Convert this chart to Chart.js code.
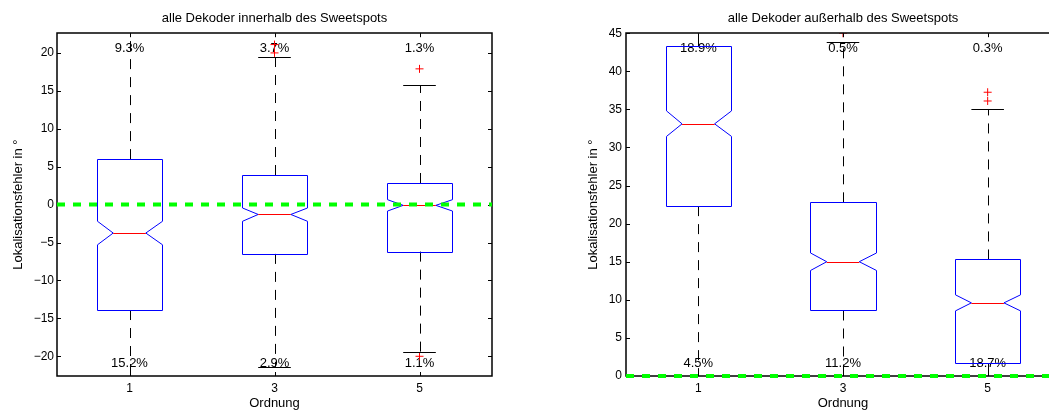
<!DOCTYPE html>
<html>
<head>
<meta charset="utf-8">
<script src="https://cdn.jsdelivr.net/npm/chart.js@4.4.0/dist/chart.umd.min.js"></script>
<style>
    html, body { margin: 0; padding: 0; background: #fff; width: 1049px; height: 411px; overflow: hidden; }
    #wrap { position: relative; width: 1049px; height: 411px; overflow: hidden; }
    canvas { position: absolute; top: 0; }
    #innerChart { left: 0; }
    #outerChart { left: 530px; }
</style>
</head>
<body>
<div id="wrap">
    <canvas id="innerChart" width="530" height="411"></canvas>
    <canvas id="outerChart" width="545" height="411"></canvas>
</div>
<script>
const orders = ["1", "3", "5"];

// alle Dekoder innerhalb des Sweetspots
const inQ1 = [-13.9, -6.5, -6.2];
const inMedian = [-3.75, -1.3, -0.1];
const inQ3 = [6.0, 3.9, 2.85];
const inNotchLow = [-5.3, -2.2, -0.85];
const inNotchHigh = [-2.2, -0.45, 0.65];
const inWhiskerLow = [-25, -21.4, -19.5];
const inWhiskerHigh = [25, 19.4, 15.75];
const inOutliers = [[], [21.1, 20.0], [17.9, -20.0]];
const inAbove = ["9.3%", "3.7%", "1.3%"];
const inBelow = ["15.2%", "2.9%", "1.1%"];
const inTicks = [-20, -15, -10, -5, 0, 5, 10, 15, 20];
const inRange = [-22.6, 22.6];

// alle Dekoder außerhalb des Sweetspots
const outQ1 = [22.3, 8.6, 1.7];
const outMedian = [33.1, 15.0, 9.6];
const outQ3 = [43.3, 22.8, 15.3];
const outNotchLow = [31.45, 13.85, 8.55];
const outNotchHigh = [34.8, 16.15, 10.65];
const outWhiskerLow = [0, 0, 0];
const outWhiskerHigh = [50, 43.8, 35.05];
const outOutliers = [[], [45.0], [37.25, 36.1]];
const outAbove = ["18.9%", "0.5%", "0.3%"];
const outBelow = ["4.5%", "11.2%", "18.7%"];
const outTicks = [0, 5, 10, 15, 20, 25, 30, 35, 40, 45];
const outRange = [0, 45];

const referenceLine = 0;

const FONT = "'Liberation Sans', Arial, Helvetica, sans-serif";
Chart.defaults.font.family = FONT;
Chart.defaults.font.size = 12;
Chart.defaults.color = "#000";

const px = v => Math.round(v) + 0.5;

const notchBoxes = {
    id: "notchBoxes",
    beforeDatasetsDraw(chart, args, opts) {
        const { ctx, chartArea: a, scales: { x } } = chart;
        ctx.save();
        ctx.fillStyle = "#000";
        ctx.font = "13px " + FONT;
        ctx.textAlign = "center";
        ctx.textBaseline = "middle";
        opts.above.forEach((t, i) => {
            ctx.fillText(t, x.getPixelForValue(i), a.top + 15);
        });
        opts.below.forEach((t, i) => {
            ctx.fillText(t, x.getPixelForValue(i), a.bottom - 12.5);
        });
        ctx.restore();
    },
    afterDatasetsDraw(chart, args, opts) {
        const { ctx, chartArea: a, scales: { x, y } } = chart;
        const step = x.getPixelForValue(1) - x.getPixelForValue(0);
        const hw = step * 0.225;

        ctx.save();
        ctx.beginPath();
        ctx.rect(a.left, a.top, a.right - a.left, a.bottom - a.top);
        ctx.clip();

        opts.median.forEach((m, i) => {
            const cx = x.getPixelForValue(i);
            const xc = px(cx);
            const yq1 = y.getPixelForValue(opts.q1[i]);
            const yq3 = y.getPixelForValue(opts.q3[i]);
            const ym = y.getPixelForValue(m);
            const ynl = y.getPixelForValue(opts.notchLow[i]);
            const ynh = y.getPixelForValue(opts.notchHigh[i]);
            const ywl = y.getPixelForValue(opts.whiskerLow[i]);
            const ywh = y.getPixelForValue(opts.whiskerHigh[i]);
            const l = px(cx - hw), r = px(cx + hw);
            const li = cx - hw / 2, ri = cx + hw / 2;

            // whiskers
            ctx.strokeStyle = "#000";
            ctx.lineWidth = 1;
            ctx.setLineDash([10, 8]);
            ctx.beginPath();
            ctx.moveTo(xc, yq3);
            ctx.lineTo(xc, ywh);
            ctx.moveTo(xc, yq1);
            ctx.lineTo(xc, ywl);
            ctx.stroke();
            ctx.setLineDash([]);

            // caps
            ctx.beginPath();
            ctx.moveTo(cx - hw / 2, px(ywh));
            ctx.lineTo(cx + hw / 2, px(ywh));
            ctx.moveTo(cx - hw / 2, px(ywl));
            ctx.lineTo(cx + hw / 2, px(ywl));
            ctx.stroke();

            // notched box
            ctx.strokeStyle = "#0000ff";
            ctx.beginPath();
            ctx.moveTo(l, px(yq1));
            ctx.lineTo(l, ynl);
            ctx.lineTo(li, ym);
            ctx.lineTo(l, ynh);
            ctx.lineTo(l, px(yq3));
            ctx.lineTo(r, px(yq3));
            ctx.lineTo(r, ynh);
            ctx.lineTo(ri, ym);
            ctx.lineTo(r, ynl);
            ctx.lineTo(r, px(yq1));
            ctx.closePath();
            ctx.stroke();

            // median
            ctx.strokeStyle = "#ff0000";
            ctx.beginPath();
            ctx.moveTo(li, px(ym));
            ctx.lineTo(ri, px(ym));
            ctx.stroke();
        });
        ctx.restore();

        // frame and inward ticks
        ctx.save();
        ctx.strokeStyle = "#000";
        ctx.lineWidth = 1.5;
        ctx.strokeRect(Math.round(a.left), Math.round(a.top),
            Math.round(a.right) - Math.round(a.left), Math.round(a.bottom) - Math.round(a.top));
        ctx.lineWidth = 1;
        ctx.beginPath();
        y.ticks.forEach(t => {
            const ty = px(y.getPixelForValue(t.value));
            ctx.moveTo(a.left, ty);
            ctx.lineTo(a.left + 4, ty);
            ctx.moveTo(a.right, ty);
            ctx.lineTo(a.right - 4, ty);
        });
        x.ticks.forEach((t, i) => {
            const tx = px(x.getPixelForValue(i));
            ctx.moveTo(tx, a.bottom);
            ctx.lineTo(tx, a.bottom - 4);
            ctx.moveTo(tx, a.top);
            ctx.lineTo(tx, a.top + 4);
        });
        ctx.stroke();

        // reference line
        const y0 = y.getPixelForValue(referenceLine);
        ctx.strokeStyle = "#00ff00";
        ctx.lineWidth = 4;
        ctx.setLineDash([8, 8]);
        ctx.beginPath();
        ctx.moveTo(a.left, y0);
        ctx.lineTo(a.right, y0);
        ctx.stroke();
        ctx.restore();
    }
};

function buildChart(id, d) {
    const points = [];
    d.outliers.forEach((vals, i) => {
        vals.forEach(v => points.push({ x: orders[i], y: v }));
    });

    return new Chart(document.getElementById(id), {
        type: "line",
        data: {
            labels: orders,
            datasets: [{
                data: points,
                showLine: false,
                pointStyle: "cross",
                pointRadius: 4,
                pointBorderWidth: 1,
                pointBorderColor: "#ff0000",
                pointBackgroundColor: "#ff0000"
            }]
        },
        options: {
            responsive: false,
            animation: false,
            events: [],
            layout: {
                padding: { left: 0, right: d.padRight, top: 0, bottom: 0 }
            },
            plugins: {
                legend: { display: false },
                tooltip: { enabled: false },
                title: {
                    display: true,
                    text: d.title,
                    fullSize: false,
                    color: "#000",
                    font: { size: 13, weight: "normal" },
                    padding: { top: 10.5, bottom: 7.1 }
                },
                notchBoxes: {
                    q1: d.q1, q3: d.q3, median: d.median,
                    notchLow: d.notchLow, notchHigh: d.notchHigh,
                    whiskerLow: d.whiskerLow, whiskerHigh: d.whiskerHigh,
                    above: d.above, below: d.below
                }
            },
            scales: {
                x: {
                    type: "category",
                    offset: true,
                    grid: { display: false, drawTicks: false },
                    border: { display: false },
                    ticks: { padding: 5, maxRotation: 0 },
                    title: {
                        display: true,
                        text: "Ordnung",
                        font: { size: 13 },
                        padding: { top: 0, bottom: 0.2 }
                    },
                    afterFit: scale => { scale.height = 35; }
                },
                y: {
                    min: d.range[0],
                    max: d.range[1],
                    grid: { display: false, drawTicks: false },
                    border: { display: false },
                    ticks: {
                        padding: d.tickPad,
                        callback: v => String(v).replace("-", "\u2212")
                    },
                    afterBuildTicks: scale => {
                        scale.ticks = d.ticks.map(v => ({ value: v }));
                    },
                    title: {
                        display: true,
                        text: "Lokalisationsfehler in °",
                        font: { size: 13 },
                        padding: { top: d.yTitlePad, bottom: 0 }
                    },
                    afterFit: scale => { scale.width = d.axisWidth; }
                }
            }
        },
        plugins: [notchBoxes]
    });
}

buildChart("innerChart", {
    title: "alle Dekoder innerhalb des Sweetspots",
    q1: inQ1, q3: inQ3, median: inMedian,
    notchLow: inNotchLow, notchHigh: inNotchHigh,
    whiskerLow: inWhiskerLow, whiskerHigh: inWhiskerHigh,
    outliers: inOutliers, above: inAbove, below: inBelow,
    ticks: inTicks, range: inRange,
    axisWidth: 57, padRight: 38, yTitlePad: 10.2, tickPad: 3
});

buildChart("outerChart", {
    title: "alle Dekoder außerhalb des Sweetspots",
    q1: outQ1, q3: outQ3, median: outMedian,
    notchLow: outNotchLow, notchHigh: outNotchHigh,
    whiskerLow: outWhiskerLow, whiskerHigh: outWhiskerHigh,
    outliers: outOutliers, above: outAbove, below: outBelow,
    ticks: outTicks, range: outRange,
    axisWidth: 96, padRight: 15, yTitlePad: 55.2, tickPad: 4
});
</script>
</body>
</html>
